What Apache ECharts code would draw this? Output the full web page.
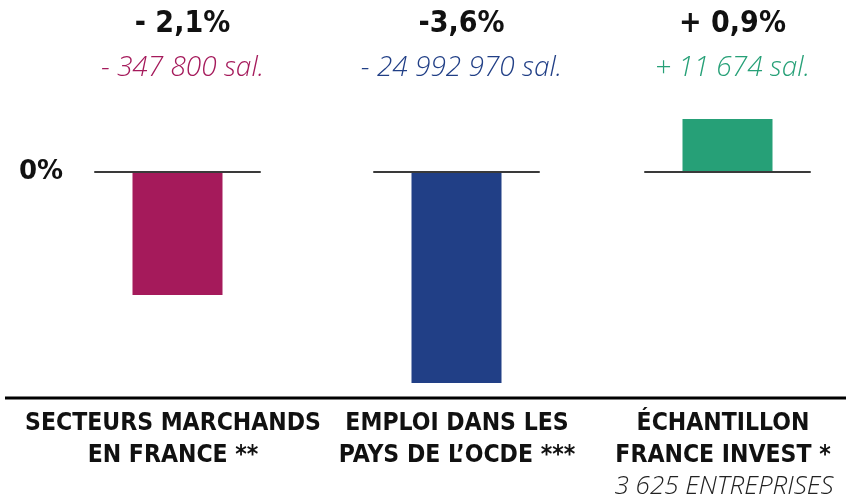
<!DOCTYPE html>
<html>
<head>
<meta charset="utf-8">
<script src="https://cdn.jsdelivr.net/npm/echarts@6/dist/echarts.min.js"></script>
<style>
  html, body { margin: 0; padding: 0; background: #fff; }
  #chart { width: 846px; height: 499px; }
</style>
</head>
<body>
<div id="chart"></div>
<script>
// données
const categories = ['SECTEURS MARCHANDS\nEN FRANCE **', 'EMPLOI DANS LES\nPAYS DE L\u2019OCDE ***', '\u00c9CHANTILLON\nFRANCE INVEST *']
const notes = ['', '', '3 625 ENTREPRISES']
const values = [-2.1, -3.6, 0.9]
const pctLabels = ['- 2,1%', '-3,6%', '+ 0,9%']
const salLabels = ['- 347 800 sal.', '- 24 992 970 sal.', '+ 11 674 sal.']
const colors = ['#A51A5B', '#213F86', '#26A077']

const gridLefts = [95, 374, 645]
const gridWidth = 165
const labelFont = '"Liberation Sans Narrow", "DejaVu Sans Condensed", sans-serif'
const lightFont = '"Open Sans", sans-serif'

const chart = echarts.init(document.getElementById('chart'))

const grids = [], xAxes = [], yAxes = [], series = [], titles = [], graphics = []
categories.forEach((cat, i) => {
  const cx = gridLefts[i] + gridWidth / 2
  grids.push({ left: gridLefts[i], width: gridWidth, top: 119, height: 264 })
  xAxes.push({
    gridIndex: i,
    type: 'category',
    data: [cat],
    axisLine: { onZero: true, lineStyle: { color: '#3a3a3a', width: 2 } },
    axisTick: { show: false },
    axisLabel: { show: false },
    z: 5
  })
  yAxes.push({
    gridIndex: i,
    type: 'value',
    min: -3.6,
    max: 0.9,
    show: false,
    splitLine: { show: false }
  })
  series.push({
    type: 'bar',
    xAxisIndex: i,
    yAxisIndex: i,
    data: [values[i]],
    barWidth: 90,
    itemStyle: { color: colors[i] },
    z: 2
  })
  titles.push({
    text: pctLabels[i],
    subtext: salLabels[i],
    left: cx,
    top: 4,
    textAlign: 'center',
    itemGap: 15,
    textStyle: { fontFamily: labelFont, fontWeight: 'bold', fontSize: 30, color: '#111' },
    subtextStyle: { fontFamily: lightFont, fontStyle: 'italic', fontWeight: 300, fontSize: 28, color: colors[i] }
  })
  graphics.push({
    type: 'text',
    x: [173, 457, 723][i],
    y: 408,
    style: {
      text: cat,
      fontFamily: labelFont,
      fontWeight: 'bold',
      fontSize: 24.5,
      lineHeight: 32,
      fill: '#111',
      align: 'center',
      verticalAlign: 'top'
    }
  })
  if (notes[i]) {
    graphics.push({
      type: 'text',
      x: 724,
      y: 474,
      style: {
        text: notes[i],
        fontFamily: lightFont,
        fontStyle: 'italic',
        fontWeight: 300,
        fontSize: 26,
        fill: '#222',
        align: 'center',
        verticalAlign: 'top'
      }
    })
  }
})

// "0%" et ligne de base
graphics.push({
  type: 'text',
  x: 19,
  y: 159,
  style: { text: '0%', fontFamily: '"DejaVu Sans", sans-serif', fontWeight: 'bold', fontSize: 26, fill: '#111' }
})
graphics.push({
  type: 'line',
  shape: { x1: 5, y1: 398, x2: 846, y2: 398 },
  style: { stroke: '#000', lineWidth: 3 }
})

chart.setOption({
  animation: false,
  title: titles,
  grid: grids,
  xAxis: xAxes,
  yAxis: yAxes,
  series: series,
  graphic: graphics
})
</script>
</body>
</html>
